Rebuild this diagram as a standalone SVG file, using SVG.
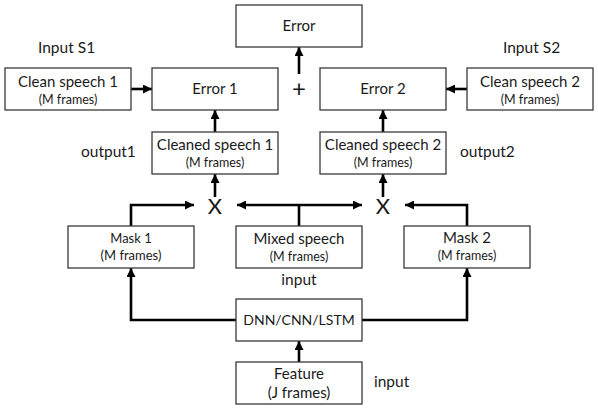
<svg xmlns="http://www.w3.org/2000/svg" width="598" height="409" viewBox="0 0 598 409">
<defs>
<marker id="ah" viewBox="0 0 10 10" refX="10" refY="5" markerWidth="9" markerHeight="9" markerUnits="userSpaceOnUse" orient="auto-start-reverse">
<path d="M0,0 L10,5 L0,10 z" fill="#000"/>
</marker>
<style>
.box{fill:#fff;stroke:#3a3a3a;stroke-width:1.3}
.t{font-family:Lato,"Liberation Sans",sans-serif;fill:#1a1a1a;text-anchor:middle}
.m{font-size:15px}
.s{font-size:12.5px}
.lab{font-family:Lato,"Liberation Sans",sans-serif;fill:#1a1a1a;font-size:15.5px}
.c{fill:none;stroke:#000;stroke-width:2.6}
.a{marker-end:url(#ah)}
</style>
</defs>
<g id="connectors">
<line class="c a" x1="131" y1="89" x2="152" y2="89"/>
<line class="c a" x1="467" y1="89" x2="446" y2="89"/>
<line class="c a" x1="215" y1="132" x2="215" y2="110"/>
<line class="c a" x1="383" y1="132" x2="383" y2="110"/>
<line class="c a" x1="299" y1="74" x2="299" y2="47"/>
<line class="c a" x1="215" y1="197" x2="215" y2="174"/>
<line class="c a" x1="383" y1="197" x2="383" y2="174"/>
<path class="c a" d="M131,226 V205 H194"/>
<path class="c a" d="M467,226 V205 H405"/>
<path class="c" d="M299,226 V205"/>
<line class="c a" x1="299" y1="205" x2="237" y2="205"/>
<line class="c a" x1="299" y1="205" x2="362" y2="205"/>
<path class="c a" d="M236,320 H131 V268"/>
<path class="c a" d="M362,320 H467 V268"/>
<line class="c a" x1="299" y1="362" x2="299" y2="341"/>
</g>
<g id="error">
<rect class="box" x="236" y="5" width="126" height="42"/>
<text class="t m" x="299" y="31">Error</text>
</g>
<g id="plus"><text class="t" x="299" y="97" font-size="24px">+</text></g>
<g id="clean1">
<rect class="box" x="5" y="68" width="126" height="42"/>
<text class="t m" x="68" y="87">Clean speech 1</text>
<text class="t s" x="68" y="104">(M frames)</text>
</g>
<g id="error1">
<rect class="box" x="152" y="68" width="126" height="42"/>
<text class="t m" x="215" y="94">Error 1</text>
</g>
<g id="error2">
<rect class="box" x="320" y="68" width="126" height="42"/>
<text class="t m" x="383" y="94">Error 2</text>
</g>
<g id="clean2">
<rect class="box" x="467" y="68" width="126" height="42"/>
<text class="t m" x="530" y="87">Clean speech 2</text>
<text class="t s" x="530" y="104">(M frames)</text>
</g>
<g id="cleaned1">
<rect class="box" x="152" y="132" width="126" height="42"/>
<text class="t m" x="215" y="150">Cleaned speech 1</text>
<text class="t s" x="215" y="167">(M frames)</text>
</g>
<g id="cleaned2">
<rect class="box" x="320" y="132" width="126" height="42"/>
<text class="t m" x="383" y="150">Cleaned speech 2</text>
<text class="t s" x="383" y="167">(M frames)</text>
</g>
<g id="x1"><text class="t" x="215" y="214" font-size="22px">X</text></g>
<g id="x2"><text class="t" x="383" y="214" font-size="22px">X</text></g>
<g id="mask1">
<rect class="box" x="68" y="226" width="126" height="42"/>
<text class="t" x="131" y="243" font-size="13px">Mask 1</text>
<text class="t" x="131" y="260" font-size="13px">(M frames)</text>
</g>
<g id="mixed">
<rect class="box" x="236" y="226" width="126" height="42"/>
<text class="t m" x="299" y="244">Mixed speech</text>
<text class="t s" x="299" y="261">(M frames)</text>
</g>
<g id="mask2">
<rect class="box" x="404" y="226" width="126" height="42"/>
<text class="t m" x="467" y="243">Mask 2</text>
<text class="t s" x="467" y="260">(M frames)</text>
</g>
<g id="dnn">
<rect class="box" x="236" y="299" width="126" height="42"/>
<text class="t" x="299" y="325" font-size="14px">DNN/CNN/LSTM</text>
</g>
<g id="feature">
<rect class="box" x="236" y="362" width="126" height="42"/>
<text class="t m" x="299" y="379">Feature</text>
<text class="t m" x="299" y="398">(J frames)</text>
</g>
<g id="labels">
<text class="lab" x="38" y="53">Input S1</text>
<text class="lab" x="503" y="53">Input S2</text>
<text class="lab" x="81" y="157">output1</text>
<text class="lab" x="460" y="157">output2</text>
<text class="lab" x="299" y="285" text-anchor="middle">input</text>
<text class="lab" x="374" y="387">input</text>
</g>
</svg>
